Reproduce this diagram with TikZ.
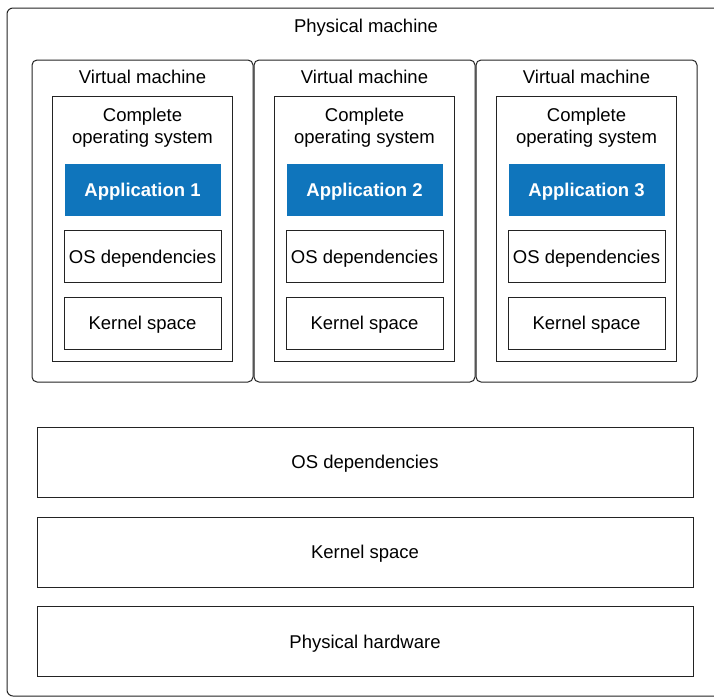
\documentclass[tikz,border=0pt]{standalone}
\usepackage{fontspec}
\setmainfont{Liberation Sans}
\usetikzlibrary{positioning}
\definecolor{myline}{RGB}{35,35,35}
\definecolor{myblue}{RGB}{15,117,188}
\newcommand{\diagfont}{\fontsize{18.5}{22}\selectfont}
\tikzset{
  vmbox/.style={rectangle, draw=myline, rounded corners=5pt,
    minimum width=221pt, minimum height=322pt, inner sep=0pt, line width=1pt},
  osbox/.style={rectangle, draw=myline,
    minimum width=180pt, minimum height=265pt, inner sep=0pt, line width=1pt},
  appbox/.style={rectangle, fill=myblue, text=white, font=\diagfont\bfseries,
    minimum width=156pt, minimum height=52pt, inner sep=0pt,
    text height=13.3pt, text depth=0pt},
  layerbox/.style={rectangle, draw=myline,
    minimum width=157pt, minimum height=52pt, inner sep=0pt, line width=1pt,
    text height=13.3pt, text depth=0pt},
  hostbox/.style={rectangle, draw=myline,
    minimum width=656pt, minimum height=70pt, inner sep=0pt, line width=1pt,
    text height=13.3pt, text depth=0pt},
  boxtext/.style={inner sep=0pt, align=center}
}

\begin{document}
\begin{tikzpicture}[x=1pt, y=-1pt, font=\diagfont]
  \useasboundingbox (0,0) rectangle (714,697);
  \draw[myline, line width=1pt, rounded corners=6pt] (7,8) rectangle (724,696);
  \node[boxtext] (host) at (366,28) {Physical machine};
  % three virtual machines
  \foreach \i/\x in {1/142.5, 2/364.5, 3/586.5}{
    \node[vmbox] (vm\i) at (\x,221) {};
    \node[boxtext] (vmname\i) at (\x,77) {Virtual machine};
    \node[osbox] (os\i) at (\x,228.5) {};
    \node[boxtext] (osname\i) at (\x,127.5) {Complete\\operating system};
    \node[appbox] (app\i) at (\x,190) {Application \i};
    \node[layerbox] (dep\i) at (\x,256.5) {OS dependencies};
    \node[layerbox] (kern\i) at (\x,323) {Kernel space};
  }
  % host layers
  \node[hostbox] (hostdep) at (365,462) {OS dependencies};
  \node[hostbox] (hostkern) at (365,552) {Kernel space};
  \node[hostbox] (hosthw) at (365,641.5) {Physical hardware};
\end{tikzpicture}
\end{document}
